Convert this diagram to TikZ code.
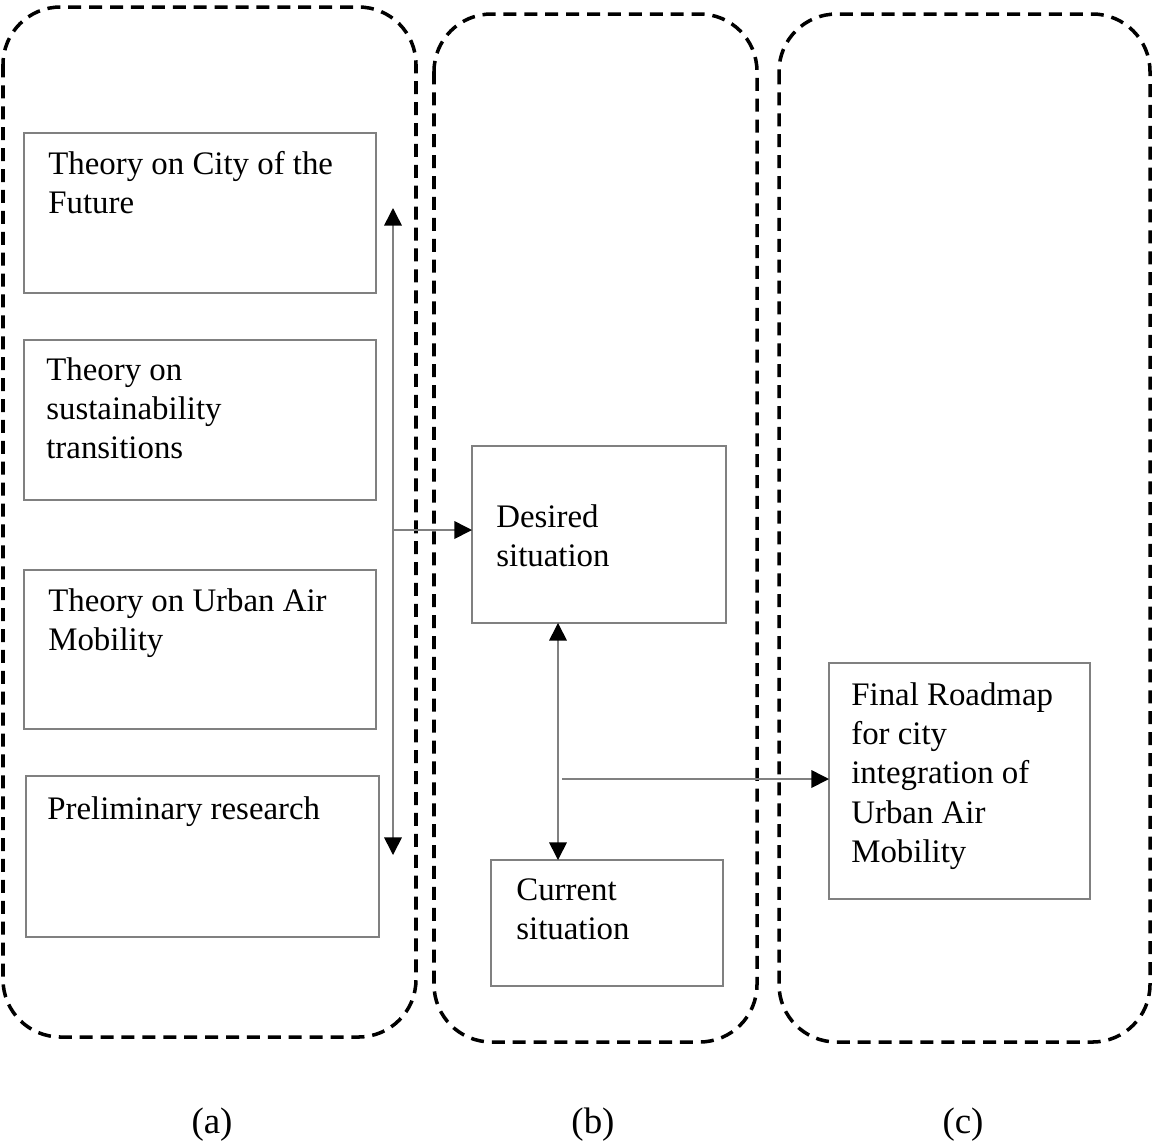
\documentclass[tikz,border=0pt]{standalone}
\usepackage{fontspec}
\setmainfont{Liberation Serif}
\usetikzlibrary{arrows.meta}
\definecolor{edgegray}{RGB}{128,128,128}
\begin{document}
\begin{tikzpicture}[x=0.02cm,y=-0.02cm,
  panel/.style={draw=black, line width=2pt, dash pattern=on 7.4pt off 4.5pt, rounded corners=1.15cm},
  itembox/.style={draw=edgegray, line width=0.9pt, anchor=north west, inner sep=0pt, outer sep=0pt},
  itemtext/.style={anchor=north west, inner sep=0pt, align=left, font=\fontsize{18.7}{22.4}\selectfont},
  caption/.style={inner sep=0pt, font=\fontsize{21}{25}\selectfont},
  link/.style={draw=edgegray, line width=0.9pt},
  onehead/.style={-{Triangle[length=10pt,width=10pt,color=black]}},
  twohead/.style={{Triangle[length=10pt,width=10pt,color=black]}-{Triangle[length=10pt,width=10pt,color=black]}},
]
\useasboundingbox (0,0) rectangle (1153,1144);

% dashed stage panels
\draw[panel] (3,7) rectangle (416,1037);
\draw[panel] (434,14) rectangle (757,1042);
\draw[panel] (779,14) rectangle (1150,1042);

% stage (a): theory boxes
\node[itembox, minimum width=7.04cm, minimum height=3.2cm] (city) at (24,133) {};
\node[itembox, minimum width=7.04cm, minimum height=3.2cm] (sust) at (24,340) {};
\node[itembox, minimum width=7.04cm, minimum height=3.18cm] (uam) at (24,570) {};
\node[itembox, minimum width=7.06cm, minimum height=3.22cm] (prelim) at (26,776) {};

\node[itemtext] (tcity) at (48,151) {Theory on City of the\\Future};
\node[itemtext] (tsust) at (46,357) {Theory on\\sustainability\\transitions};
\node[itemtext] (tuam) at (48,588) {Theory on Urban Air\\Mobility};
\node[itemtext] (tprelim) at (47,796) {Preliminary research};

% stage (b): situations
\node[itembox, minimum width=5.08cm, minimum height=3.54cm] (desired) at (472,446) {};
\node[itembox, minimum width=4.64cm, minimum height=2.52cm] (current) at (491,860) {};
\node[itemtext] (tdesired) at (496,504) {Desired\\situation};
\node[itemtext] (tcurrent) at (516,878) {Current\\situation};

% stage (c): roadmap
\node[itembox, minimum width=5.22cm, minimum height=4.72cm] (final) at (829,663) {};
\node[itemtext] (tfinal) at (851,682) {Final Roadmap\\for city\\integration of\\Urban Air\\Mobility};

% connectors
\coordinate (vtop) at (393,208);
\coordinate (vbot) at (393,855);
\coordinate (vmid) at (393,530);
\draw[link, twohead] (vtop) -- (vbot);
\draw[link, onehead] (vmid) -- (vmid -| desired.west);

\coordinate (dcol) at (558,0);
\draw[link, twohead] (dcol |- desired.south) -- (dcol |- current.north);
\coordinate (split) at (562,779);
\draw[link, onehead] (split) -- (split -| final.west);

% stage captions
\node[caption] (capa) at (212,1125) {(a)};
\node[caption] (capb) at (593,1125) {(b)};
\node[caption] (capc) at (963,1125) {(c)};
\end{tikzpicture}
\end{document}
